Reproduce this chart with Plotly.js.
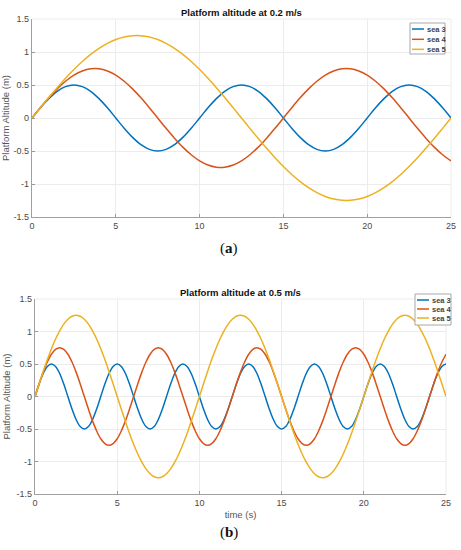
<!DOCTYPE html>
<html>
<head>
<meta charset="utf-8">
<script src="https://cdn.plot.ly/plotly-3.0.1.min.js"></script>
<style>html,body{margin:0;padding:0;background:#fff;}#chart{width:461px;height:550px;}</style>
</head>
<body>
<div id="chart"></div>
<script>
// ---- Data ----
var seriesNames = ["sea 3", "sea 4", "sea 5"];
var seriesColors = ["#0072BD", "#D95319", "#EDB120"];

// (a) Platform altitude at 0.2 m/s, time step 0.5 s
var timeA = [0,0.5,1,1.5,2,2.5,3,3.5,4,4.5,5,5.5,6,6.5,7,7.5,8,8.5,9,9.5,10,10.5,11,11.5,12,12.5,13,13.5,14,14.5,15,15.5,16,16.5,17,17.5,18,18.5,19,19.5,20,20.5,21,21.5,22,22.5,23,23.5,24,24.5,25];
var sea3A = [0,0.155,0.294,0.405,0.476,0.50,0.476,0.405,0.294,0.155,0,-0.155,-0.294,-0.405,-0.476,-0.50,-0.476,-0.405,-0.294,-0.155,
             0,0.155,0.294,0.405,0.476,0.50,0.476,0.405,0.294,0.155,0,-0.155,-0.294,-0.405,-0.476,-0.50,-0.476,-0.405,-0.294,-0.155,
             0,0.155,0.294,0.405,0.476,0.50,0.476,0.405,0.294,0.155,0];
var sea4A = [0,0.156,0.305,0.441,0.557,0.650,0.713,0.746,0.746,0.713,0.650,0.557,0.441,0.305,0.156,0,
             -0.156,-0.305,-0.441,-0.557,-0.650,-0.713,-0.746,-0.746,-0.713,-0.650,-0.557,-0.441,-0.305,-0.156,0,
             0.156,0.305,0.441,0.557,0.650,0.713,0.746,0.746,0.713,0.650,0.557,0.441,0.305,0.156,0,
             -0.156,-0.305,-0.441,-0.557,-0.650];
var sea5A = [0,0.157,0.311,0.460,0.602,0.735,0.856,0.963,1.055,1.131,1.189,1.228,1.248,
             1.248,1.228,1.189,1.131,1.055,0.963,0.856,0.735,0.602,0.460,0.311,0.157,0,
             -0.157,-0.311,-0.460,-0.602,-0.735,-0.856,-0.963,-1.055,-1.131,-1.189,-1.228,-1.248,
             -1.248,-1.228,-1.189,-1.131,-1.055,-0.963,-0.856,-0.735,-0.602,-0.460,-0.311,-0.157,0];

// (b) Platform altitude at 0.5 m/s, time step 0.25 s
var timeB = [0,0.25,0.5,0.75,1,1.25,1.5,1.75,2,2.25,2.5,2.75,3,3.25,3.5,3.75,4,4.25,4.5,4.75,
             5,5.25,5.5,5.75,6,6.25,6.5,6.75,7,7.25,7.5,7.75,8,8.25,8.5,8.75,9,9.25,9.5,9.75,
             10,10.25,10.5,10.75,11,11.25,11.5,11.75,12,12.25,12.5,12.75,13,13.25,13.5,13.75,14,14.25,14.5,14.75,
             15,15.25,15.5,15.75,16,16.25,16.5,16.75,17,17.25,17.5,17.75,18,18.25,18.5,18.75,19,19.25,19.5,19.75,
             20,20.25,20.5,20.75,21,21.25,21.5,21.75,22,22.25,22.5,22.75,23,23.25,23.5,23.75,24,24.25,24.5,24.75,25];
var sea3B = [0,0.191,0.354,0.462,0.50,0.462,0.354,0.191,0,-0.191,-0.354,-0.462,-0.50,-0.462,-0.354,-0.191,
             0,0.191,0.354,0.462,0.50,0.462,0.354,0.191,0,-0.191,-0.354,-0.462,-0.50,-0.462,-0.354,-0.191,
             0,0.191,0.354,0.462,0.50,0.462,0.354,0.191,0,-0.191,-0.354,-0.462,-0.50,-0.462,-0.354,-0.191,
             0,0.191,0.354,0.462,0.50,0.462,0.354,0.191,0,-0.191,-0.354,-0.462,-0.50,-0.462,-0.354,-0.191,
             0,0.191,0.354,0.462,0.50,0.462,0.354,0.191,0,-0.191,-0.354,-0.462,-0.50,-0.462,-0.354,-0.191,
             0,0.191,0.354,0.462,0.50,0.462,0.354,0.191,0,-0.191,-0.354,-0.462,-0.50,-0.462,-0.354,-0.191,
             0,0.191,0.354,0.462,0.50];
var sea4B = [0,0.194,0.375,0.530,0.650,0.724,0.75,0.724,0.650,0.530,0.375,0.194,0,-0.194,-0.375,-0.530,-0.650,-0.724,-0.75,-0.724,-0.650,-0.530,-0.375,-0.194,
             0,0.194,0.375,0.530,0.650,0.724,0.75,0.724,0.650,0.530,0.375,0.194,0,-0.194,-0.375,-0.530,-0.650,-0.724,-0.75,-0.724,-0.650,-0.530,-0.375,-0.194,
             0,0.194,0.375,0.530,0.650,0.724,0.75,0.724,0.650,0.530,0.375,0.194,0,-0.194,-0.375,-0.530,-0.650,-0.724,-0.75,-0.724,-0.650,-0.530,-0.375,-0.194,
             0,0.194,0.375,0.530,0.650,0.724,0.75,0.724,0.650,0.530,0.375,0.194,0,-0.194,-0.375,-0.530,-0.650,-0.724,-0.75,-0.724,-0.650,-0.530,-0.375,-0.194,
             0,0.194,0.375,0.530,0.650];
var sea5B = [0,0.196,0.386,0.568,0.735,0.884,1.011,1.114,1.189,1.235,1.25,1.235,1.189,1.114,1.011,0.884,0.735,0.568,0.386,0.196,
             0,-0.196,-0.386,-0.568,-0.735,-0.884,-1.011,-1.114,-1.189,-1.235,-1.25,-1.235,-1.189,-1.114,-1.011,-0.884,-0.735,-0.568,-0.386,-0.196,
             0,0.196,0.386,0.568,0.735,0.884,1.011,1.114,1.189,1.235,1.25,1.235,1.189,1.114,1.011,0.884,0.735,0.568,0.386,0.196,
             0,-0.196,-0.386,-0.568,-0.735,-0.884,-1.011,-1.114,-1.189,-1.235,-1.25,-1.235,-1.189,-1.114,-1.011,-0.884,-0.735,-0.568,-0.386,-0.196,
             0,0.196,0.386,0.568,0.735,0.884,1.011,1.114,1.189,1.235,1.25,1.235,1.189,1.114,1.011,0.884,0.735,0.568,0.386,0.196,0];

var xTickVals = [0,5,10,15,20,25];
var xTickText = ["0","5","10","15","20","25"];
var yTickVals = [-1.5,-1,-0.5,0,0.5,1,1.5];
var yTickText = ["-1.5","-1","-0.5","0","0.5","1","1.5"];

var titleA = "Platform altitude at 0.2 m/s";
var titleB = "Platform altitude at 0.5 m/s";
var yTitle = "Platform Altitude (m)";
var xTitleB = "time (s)";

// ---- Build traces ----
var dataA = [sea3A, sea4A, sea5A];
var dataB = [sea3B, sea4B, sea5B];
var traces = [];
for (var i = 0; i < 3; i++) {
  traces.push({x: timeA, y: dataA[i], name: seriesNames[i], type: 'scatter', mode: 'lines',
    line: {color: seriesColors[i], width: 1.5, shape: 'spline', smoothing: 1},
    xaxis: 'x', yaxis: 'y', showlegend: false});
}
for (var j = 0; j < 3; j++) {
  traces.push({x: timeB, y: dataB[j], name: seriesNames[j], type: 'scatter', mode: 'lines',
    line: {color: seriesColors[j], width: 1.5, shape: 'spline', smoothing: 1},
    xaxis: 'x2', yaxis: 'y2', showlegend: false});
}

var W = 461, H = 550;
function px(x) { return x / W; }
function py(y) { return 1 - y / H; }

var tickFont = {family: 'Liberation Sans, Arial, sans-serif', size: 9, color: '#4a4a4a'};
var axTitleFont = {family: 'Liberation Sans, Arial, sans-serif', size: 9.5, color: '#555'};
function xAxis(domain, anchor, title) {
  return {domain: domain, anchor: anchor, range: [0, 25], tickvals: xTickVals, ticktext: xTickText,
    ticks: 'inside', ticklen: 3, tickcolor: '#999', showline: true, linecolor: '#a0a0a0', linewidth: 1.2,
    showgrid: true, gridcolor: '#ececec', gridwidth: 1, zeroline: false, tickfont: tickFont,
    title: title ? {text: title, font: axTitleFont, standoff: 4} : undefined, fixedrange: true};
}
function yAxis(domain, anchor, title) {
  return {domain: domain, anchor: anchor, range: [-1.5, 1.5], tickvals: yTickVals, ticktext: yTickText,
    ticks: 'inside', ticklen: 3, tickcolor: '#999', showline: true, linecolor: '#a0a0a0', linewidth: 1.2,
    showgrid: true, gridcolor: '#ececec', gridwidth: 1, zeroline: false, tickfont: tickFont,
    title: title ? {text: title, font: axTitleFont, standoff: 4} : undefined, fixedrange: true};
}

var shapes = [];
var annotations = [];

// light frame lines on top/right edges (MATLAB grid at the limits)
function edgeFrame(xa, ya) {
  shapes.push({type: 'line', xref: xa + ' domain', yref: ya + ' domain', x0: 0, x1: 1, y0: 1, y1: 1, line: {color: '#ececec', width: 1}, layer: 'below'});
  shapes.push({type: 'line', xref: xa + ' domain', yref: ya + ' domain', x0: 1, x1: 1, y0: 0, y1: 1, line: {color: '#ececec', width: 1}, layer: 'below'});
}
edgeFrame('x', 'y');
edgeFrame('x2', 'y2');

// compact MATLAB-style legends (box, line samples, labels)
function legendBox(x0, y0, x1, y1, rows, lineX0, lineX1, textX) {
  shapes.push({type: 'rect', xref: 'paper', yref: 'paper', x0: px(x0), x1: px(x1), y0: py(y1), y1: py(y0),
    fillcolor: '#ffffff', line: {color: '#a8a8a8', width: 1}, layer: 'above'});
  for (var k = 0; k < seriesNames.length; k++) {
    shapes.push({type: 'line', xref: 'paper', yref: 'paper', x0: px(lineX0), x1: px(lineX1), y0: py(rows[k]), y1: py(rows[k]),
      line: {color: seriesColors[k], width: 1.5}, layer: 'above'});
    annotations.push({text: '<b>' + seriesNames[k] + '</b>', xref: 'paper', yref: 'paper', x: px(textX), y: py(rows[k]),
      xanchor: 'left', yanchor: 'middle', showarrow: false,
      font: {family: 'Liberation Sans, Arial, sans-serif', size: 7.5, color: '#444'}});
  }
}
legendBox(410, 23, 445, 54, [29, 39.3, 49.3], 412, 424, 424.5);
legendBox(415, 294, 451, 325, [300, 309, 318], 417, 429, 429.5);

// panel titles
annotations.push({text: '<b>' + titleA + '</b>', xref: 'paper', yref: 'paper', x: px(241.5), y: py(12), showarrow: false,
  xanchor: 'center', yanchor: 'middle', font: {family: 'Liberation Sans, Arial, sans-serif', size: 9.5, color: '#111'}});
annotations.push({text: '<b>' + titleB + '</b>', xref: 'paper', yref: 'paper', x: px(240.5), y: py(292), showarrow: false,
  xanchor: 'center', yanchor: 'middle', font: {family: 'Liberation Sans, Arial, sans-serif', size: 9.5, color: '#111'}});
// sub-figure labels
annotations.push({text: '(<b>a</b>)', xref: 'paper', yref: 'paper', x: px(229), y: py(249), showarrow: false,
  xanchor: 'center', yanchor: 'middle', font: {family: 'Liberation Serif, DejaVu Serif, serif', size: 15, color: '#111'}});
annotations.push({text: '(<b>b</b>)', xref: 'paper', yref: 'paper', x: px(229), y: py(532), showarrow: false,
  xanchor: 'center', yanchor: 'middle', font: {family: 'Liberation Serif, DejaVu Serif, serif', size: 15, color: '#111'}});

var layout = {
  width: W, height: H,
  margin: {l: 0, r: 0, t: 0, b: 0},
  paper_bgcolor: '#ffffff', plot_bgcolor: '#ffffff',
  showlegend: false,
  xaxis: xAxis([px(32), px(451)], 'y', null),
  yaxis: yAxis([py(217), py(19)], 'x', yTitle),
  xaxis2: xAxis([px(35), px(446)], 'y2', xTitleB),
  yaxis2: yAxis([py(494), py(299)], 'x2', yTitle),
  shapes: shapes,
  annotations: annotations
};

Plotly.newPlot('chart', traces, layout, {displayModeBar: false, staticPlot: true});
</script>
</body>
</html>
